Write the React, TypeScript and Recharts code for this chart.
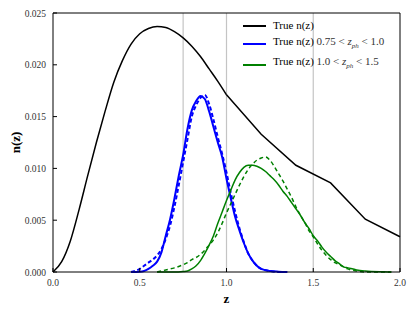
import { LineChart, Line, XAxis, YAxis, ReferenceLine } from "recharts";

// true n(z) of the full sample (smooth part up to z=1, then coarse grid)
const trueZ = [0, 0.05, 0.1, 0.15, 0.2, 0.25, 0.3, 0.35, 0.4, 0.45, 0.5, 0.55, 0.6, 0.65, 0.7, 0.75, 0.8, 0.85, 0.9, 0.95, 1.0];
const trueN = [0, 0.001, 0.003, 0.006, 0.0093, 0.0125, 0.0155, 0.0183, 0.0204, 0.022, 0.023, 0.0235, 0.0237, 0.0236, 0.0232, 0.0226, 0.0218, 0.0208, 0.0196, 0.0184, 0.0171];
const trueTailZ = [1.0, 1.2, 1.4, 1.6, 1.8, 2.0];
const trueTailN = [0.0171, 0.0133, 0.0103, 0.0086, 0.0051, 0.0034];

// bin 0.75 < z_ph < 1.0
const blueZ = [0.45, 0.5, 0.525, 0.55, 0.575, 0.6, 0.625, 0.65, 0.675, 0.7, 0.725, 0.75, 0.775, 0.8, 0.825, 0.85, 0.875, 0.9, 0.925, 0.95, 0.975, 1.0, 1.025, 1.05, 1.075, 1.1, 1.125, 1.15, 1.175, 1.2, 1.25, 1.3, 1.35];
const blueTrue = [0, 0.00003, 0.0001, 0.0003, 0.0006, 0.001, 0.0019, 0.0035, 0.0051, 0.0071, 0.0093, 0.0113, 0.0138, 0.0156, 0.0165, 0.017, 0.0167, 0.0155, 0.014, 0.0125, 0.0111, 0.009, 0.0071, 0.0053, 0.004, 0.0028, 0.0018, 0.0011, 0.0006, 0.0003, 0.0001, 0.00003, 0];
const blueEst = [0, 0.0003, 0.0006, 0.0009, 0.0012, 0.0016, 0.0022, 0.0032, 0.0045, 0.0063, 0.0084, 0.0106, 0.0128, 0.015, 0.0161, 0.0168, 0.0171, 0.0162, 0.0147, 0.013, 0.0114, 0.0096, 0.0076, 0.0058, 0.0042, 0.0029, 0.0018, 0.0011, 0.0006, 0.0003, 0.0001, 0, 0];

// bin 1.0 < z_ph < 1.5
const greenZ = [0.6, 0.65, 0.7, 0.75, 0.775, 0.8, 0.825, 0.85, 0.875, 0.9, 0.925, 0.95, 0.975, 1.0, 1.025, 1.05, 1.075, 1.1, 1.125, 1.15, 1.175, 1.2, 1.225, 1.25, 1.275, 1.3, 1.325, 1.35, 1.375, 1.4, 1.425, 1.45, 1.475, 1.5, 1.525, 1.55, 1.575, 1.6, 1.625, 1.65, 1.675, 1.7, 1.75, 1.8, 1.9, 1.95];
const greenTrue = [0, 0, 0, 0.00005, 0.0001, 0.0003, 0.0006, 0.0011, 0.0018, 0.0026, 0.0035, 0.0047, 0.0058, 0.0069, 0.0079, 0.0089, 0.0096, 0.0101, 0.0103, 0.0103, 0.0102, 0.01, 0.0097, 0.0093, 0.0089, 0.0084, 0.0078, 0.0073, 0.0067, 0.0061, 0.0055, 0.0048, 0.0042, 0.0035, 0.003, 0.0024, 0.0019, 0.0015, 0.0011, 0.0008, 0.0005, 0.0004, 0.0002, 0.0001, 0.00002, 0];
const greenEst = [0, 0.0002, 0.0004, 0.0007, 0.0009, 0.0012, 0.0014, 0.0017, 0.0021, 0.0026, 0.0031, 0.0038, 0.0047, 0.0057, 0.0066, 0.0075, 0.0084, 0.0092, 0.0099, 0.0104, 0.0108, 0.011, 0.0111, 0.0108, 0.0102, 0.0095, 0.0088, 0.008, 0.0072, 0.0063, 0.0055, 0.0048, 0.004, 0.0034, 0.0027, 0.0021, 0.0016, 0.0012, 0.0009, 0.0007, 0.0005, 0.0003, 0.0001, 0, 0, 0];

const xTicks = [0, 0.5, 1.0, 1.5, 2.0];
const yTicks = [0, 0.005, 0.01, 0.015, 0.02, 0.025];
const binEdges = [0.75, 1.0, 1.5];

const legendItems = [
  { color: "#000000", label: "True n(z)", lo: "", hi: "" },
  { color: "#0000ff", label: "True n(z)", lo: "0.75", hi: "1.0" },
  { color: "#008000", label: "True n(z)", lo: "1.0", hi: "1.5" },
];

const pts = (zs: number[], ns: number[]) => zs.map((z, i) => ({ z, n: ns[i] }));

const FONT = "'Liberation Serif', 'DejaVu Serif', serif";
const TICK = 4;

// matplotlib-style ticks: pointing into the plot, on all four sides
const BottomTick = ({ x, y, payload }: any) => (
  <g>
    <line x1={x} x2={x} y1={y} y2={y - TICK} stroke="#000" />
    <text x={x} y={y + 14} textAnchor="middle" fontSize={9.5} fontFamily={FONT} fill="#333">
      {payload.value.toFixed(1)}
    </text>
  </g>
);
const LeftTick = ({ x, y, payload }: any) => (
  <g>
    <line x1={x} x2={x + TICK} y1={y} y2={y} stroke="#000" />
    <text x={x - 7} y={y + 3.5} textAnchor="end" fontSize={9.5} fontFamily={FONT} fill="#333">
      {payload.value.toFixed(3)}
    </text>
  </g>
);
const TopTick = ({ x, y }: any) => <line x1={x} x2={x} y1={y} y2={y + TICK} stroke="#000" />;
const RightTick = ({ x, y }: any) => <line x1={x} x2={x - TICK} y1={y} y2={y} stroke="#000" />;

export default function App() {
  return (
    <div style={{ position: "absolute", left: 0, top: 0, width: 415, height: 312, background: "#fff" }}>
      <LineChart width={415} height={312} margin={{ top: 12, right: 14, bottom: 0, left: 8 }}>
        <XAxis
          type="number"
          dataKey="z"
          domain={[0, 2]}
          ticks={xTicks}
          tickSize={0}
          tickMargin={0}
          tickLine={false}
          tick={BottomTick}
          height={40}
          stroke="#000"
          label={{ value: "z", position: "insideBottom", offset: 9, fontSize: 13, fontWeight: "bold", fontFamily: FONT, fill: "#000" }}
        />
        <XAxis
          xAxisId="top"
          orientation="top"
          type="number"
          dataKey="z"
          domain={[0, 2]}
          ticks={xTicks}
          tickSize={0}
          tickMargin={0}
          tickLine={false}
          tick={TopTick}
          height={1}
          stroke="#000"
        />
        <YAxis
          type="number"
          domain={[0, 0.025]}
          ticks={yTicks}
          tickSize={0}
          tickMargin={0}
          tickLine={false}
          tick={LeftTick}
          width={45}
          stroke="#000"
          label={{ value: "n(z)", angle: -90, position: "insideLeft", offset: 7, fontSize: 13, fontWeight: "bold", fontFamily: FONT, fill: "#000", style: { textAnchor: "middle" } }}
        />
        <YAxis
          yAxisId="right"
          orientation="right"
          type="number"
          domain={[0, 0.025]}
          ticks={yTicks}
          tickSize={0}
          tickMargin={0}
          tickLine={false}
          tick={RightTick}
          width={1}
          stroke="#000"
        />

        {binEdges.map((e) => (
          <ReferenceLine key={e} x={e} stroke="#c4c4c4" strokeWidth={1.2} />
        ))}

        <Line data={pts(trueZ, trueN)} dataKey="n" type="monotone" stroke="#000" strokeWidth={1.5} dot={false} isAnimationActive={false} />
        <Line data={pts(trueTailZ, trueTailN)} dataKey="n" type="linear" stroke="#000" strokeWidth={1.5} dot={false} isAnimationActive={false} />

        <Line data={pts(blueZ, blueTrue)} dataKey="n" type="monotone" stroke="#0000ff" strokeWidth={2} dot={false} isAnimationActive={false} />
        <Line data={pts(blueZ, blueEst)} dataKey="n" type="monotone" stroke="#0000ff" strokeWidth={2} strokeDasharray="4 2.5" dot={false} isAnimationActive={false} />

        <Line data={pts(greenZ, greenTrue)} dataKey="n" type="monotone" stroke="#008000" strokeWidth={1.5} dot={false} isAnimationActive={false} />
        <Line data={pts(greenZ, greenEst)} dataKey="n" type="monotone" stroke="#008000" strokeWidth={1.5} strokeDasharray="4 3" dot={false} isAnimationActive={false} />
      </LineChart>

      {/* legend, no frame, top right inside the axes */}
      <div style={{ position: "absolute", left: 243, top: 18, fontFamily: FONT, fontSize: 11, color: "#000", lineHeight: "15.5px" }}>
        {legendItems.map((it, i) => (
          <div key={i} style={{ display: "flex", alignItems: "center", whiteSpace: "nowrap" }}>
            <div style={{ width: 23, height: 0, borderTop: `2px solid ${it.color}`, marginRight: 7 }} />
            <span>
              {it.label}
              {it.lo && (
                <span style={{ color: "#333" }}>
                  {" "}{it.lo} &lt; <i>z</i><sub style={{ fontSize: 7, fontStyle: "italic" }}>ph</sub> &lt; {it.hi}
                </span>
              )}
            </span>
          </div>
        ))}
      </div>
    </div>
  );
}
